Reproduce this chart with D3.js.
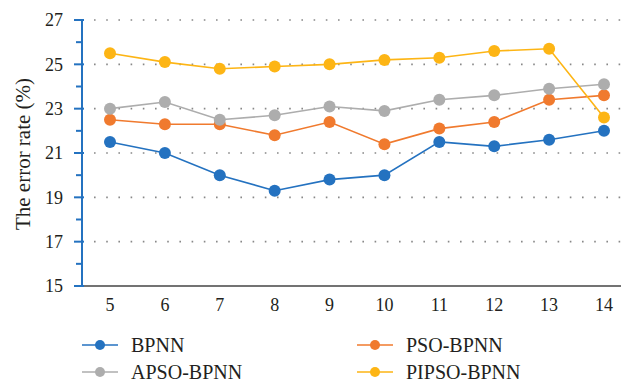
<!DOCTYPE html>
<html>
<head>
<meta charset="utf-8">
<script src="https://cdn.jsdelivr.net/npm/d3@7"></script>
<style>
  html, body { margin: 0; padding: 0; background: #fff; }
  svg { display: block; }
</style>
</head>
<body>
<svg id="chart" width="621" height="385" font-family="'Liberation Serif', 'DejaVu Serif', serif"></svg>
<script>
// Hidden-layer node counts on the x axis
const categories = [5, 6, 7, 8, 9, 10, 11, 12, 13, 14];
// Error rate (%) for each model
const bpnn  = [21.5, 21.0, 20.0, 19.3, 19.8, 20.0, 21.5, 21.3, 21.6, 22.0];
const pso   = [22.5, 22.3, 22.3, 21.8, 22.4, 21.4, 22.1, 22.4, 23.4, 23.6];
const apso  = [23.0, 23.3, 22.5, 22.7, 23.1, 22.9, 23.4, 23.6, 23.9, 24.1];
const pipso = [25.5, 25.1, 24.8, 24.9, 25.0, 25.2, 25.3, 25.6, 25.7, 22.6];
const seriesNames = ["BPNN", "PSO-BPNN", "APSO-BPNN", "PIPSO-BPNN"];
const majorTicks = [15, 17, 19, 21, 23, 25, 27];

const colors = ["#2472C0", "#F07A2E", "#ADADAD", "#FDB515"];
const series = [bpnn, pso, apso, pipso].map((v, i) => ({ name: seriesNames[i], values: v, color: colors[i] }));

const svg = d3.select("#chart");
const plotLeft = 82, plotRight = 621, plotTop = 20, plotBottom = 286;
const textColor = "#231f20";

const x = d3.scalePoint().domain(categories).range([110, 604]);
const y = d3.scaleLinear().domain([15, 27]).range([plotBottom, plotTop]);

// dotted horizontal grid lines
svg.append("g").selectAll("line")
  .data(majorTicks.filter(t => t > 15))
  .join("line")
  .attr("x1", plotLeft + 12).attr("x2", plotRight)
  .attr("y1", d => y(d)).attr("y2", d => y(d))
  .attr("stroke", "#888").attr("stroke-width", 1.6)
  .attr("stroke-dasharray", "1.6,10.6");

// x axis baseline
svg.append("line")
  .attr("x1", plotLeft).attr("x2", plotRight)
  .attr("y1", plotBottom).attr("y2", plotBottom)
  .attr("stroke", "#444").attr("stroke-width", 1.3);

// y axis: blue line with major and minor ticks
const yAxis = svg.append("g");
yAxis.append("line")
  .attr("x1", plotLeft).attr("x2", plotLeft)
  .attr("y1", plotTop).attr("y2", plotBottom)
  .attr("stroke", "#2472C0").attr("stroke-width", 2);
yAxis.selectAll("line.tick")
  .data(d3.range(15, 28, 1))
  .join("line").attr("class", "tick")
  .attr("x1", d => (d % 2 === 1 ? plotLeft - 8 : plotLeft - 6))
  .attr("x2", d => (d % 2 === 1 ? plotLeft + 2 : plotLeft))
  .attr("y1", d => y(d)).attr("y2", d => y(d))
  .attr("stroke", "#2472C0").attr("stroke-width", 2);
yAxis.selectAll("text")
  .data(majorTicks)
  .join("text")
  .attr("x", 63).attr("y", d => y(d))
  .attr("dy", "0.35em").attr("text-anchor", "end")
  .attr("font-size", 18).attr("fill", textColor)
  .text(d => d);

// x tick labels
svg.append("g").selectAll("text")
  .data(categories)
  .join("text")
  .attr("x", d => x(d)).attr("y", 311)
  .attr("text-anchor", "middle")
  .attr("font-size", 18).attr("fill", textColor)
  .text(d => d);

// y axis title
svg.append("text")
  .attr("transform", `translate(30,154) rotate(-90)`)
  .attr("text-anchor", "middle")
  .attr("font-size", 21).attr("fill", textColor)
  .text("The error rate (%)");

// lines and markers
const line = d3.line().x((d, i) => x(categories[i])).y(d => y(d));
const g = svg.append("g");
series.forEach(s => {
  g.append("path")
    .attr("d", line(s.values))
    .attr("fill", "none").attr("stroke", s.color).attr("stroke-width", 1.6);
  g.selectAll(null).data(s.values).join("circle")
    .attr("cx", (d, i) => x(categories[i])).attr("cy", d => y(d))
    .attr("r", 6).attr("fill", s.color);
});

// legend (two columns, two rows)
const legendPos = [[82, 345], [357, 345], [82, 372], [357, 372]];
const legend = svg.append("g");
series.forEach((s, i) => {
  const [lx, ly] = legendPos[i];
  legend.append("line")
    .attr("x1", lx).attr("x2", lx + 36).attr("y1", ly).attr("y2", ly)
    .attr("stroke", s.color).attr("stroke-width", 1.6);
  legend.append("circle").attr("cx", lx + 18).attr("cy", ly).attr("r", 5).attr("fill", s.color);
  legend.append("text")
    .attr("x", lx + 49).attr("y", ly).attr("dy", "0.35em")
    .attr("font-size", 20).attr("fill", textColor)
    .text(s.name);
});
</script>
</body>
</html>
